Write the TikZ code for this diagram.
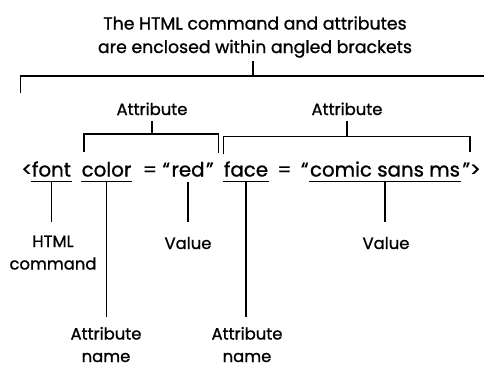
\documentclass[tikz,border=0pt]{standalone}
\usepackage{fontspec}
\setmainfont{Poppins}[FakeBold=1]
\begin{document}
\begin{tikzpicture}[x=1pt,y=-1pt,line width=1.5pt,
  ttl/.style={inner sep=0pt,font=\fontsize{17.3}{23.5}\selectfont,align=center,anchor=base},
  lbl/.style={inner sep=0pt,font=\fontsize{16.4}{22.5}\selectfont,align=center,anchor=base},
  word/.style={inner sep=0pt,font=\fontsize{19.8}{26}\selectfont,anchor=base}]
\useasboundingbox (0,0) rectangle (484,368);
% title
\node[ttl] (title) at (255,53) {The HTML command and attributes\\are enclosed within angled brackets};
\coordinate (tb) at (253,76);
\coordinate (tl) at (20.5,93);
\coordinate (tr) at (484,76);
\draw ([yshift=-3pt]title.south -| tb) -- (tb);
\draw (tl) |- (tr);
% attribute labels and brackets
\node[lbl] (a1) at (152,115) {Attribute};
\node[lbl] (a2) at (347,115) {Attribute};
\coordinate (b1l) at (84,152);
\coordinate (b1m) at (152,134);
\coordinate (b1r) at (218.5,153);
\coordinate (b2l) at (223.5,154);
\coordinate (b2m) at (347,136.5);
\coordinate (b2r) at (470,152);
\draw ([yshift=-5pt]a1.south) -- (b1m);
\draw ([yshift=-5pt]a2.south) -- (b2m);
\draw (b1l) |- (b1m) -| (b1r);
\draw (b2l) |- (b2m) -| (b2r);
% main line
\node[word] (font) at (51.5,176.5) {font};
\node[word,anchor=base east] (lt) at ([xshift=2pt]font.base west) {<};
\node[word] (color) at (106.5,176.5) {color};
\node[word] (eq1) at (150,176.5) {=};
\node[word] (red) at (188,176.5) {red};
\node[word,anchor=base east] (oq1) at (red.base west) {“};
\node[word,anchor=base west] (cq1) at (red.base east) {”};
\node[word] (face) at (246,176.5) {face};
\node[word] (eq2) at (284.5,176.5) {=};
\node[word] (comic) at (385,176.5) {comic sans ms};
\node[word,anchor=base east] (oq2) at (comic.base west) {“};
\node[word,anchor=base west] (cq2) at ([xshift=1pt]comic.base east) {”>};
% underlines
\foreach \w in {font,color,face,comic}
  \draw ([yshift=-5pt]\w.base west) -- ([yshift=-5pt]\w.base east);
% bottom labels
\node[lbl] (html) at (53,269.5) {HTML\\command};
\node[lbl] (v1) at (188,249) {Value};
\node[lbl] (v2) at (386,249) {Value};
\node[lbl] (an1) at (106,362) {Attribute\\name};
\node[lbl] (an2) at (247,362) {Attribute\\name};
\coordinate (e1) at (52,222);
\coordinate (e2) at (106,317);
\draw ([yshift=-5pt]font.base) -- (font.base |- e1);
\draw ([yshift=-5pt]color.base) -- (color.base |- e2);
\draw ([yshift=-5pt]red.base) -- (red.base |- e1);
\draw ([yshift=-5pt]face.base) -- (face.base |- e2);
\draw ([yshift=-5pt]comic.base) -- (comic.base |- e1);
\end{tikzpicture}
\end{document}
